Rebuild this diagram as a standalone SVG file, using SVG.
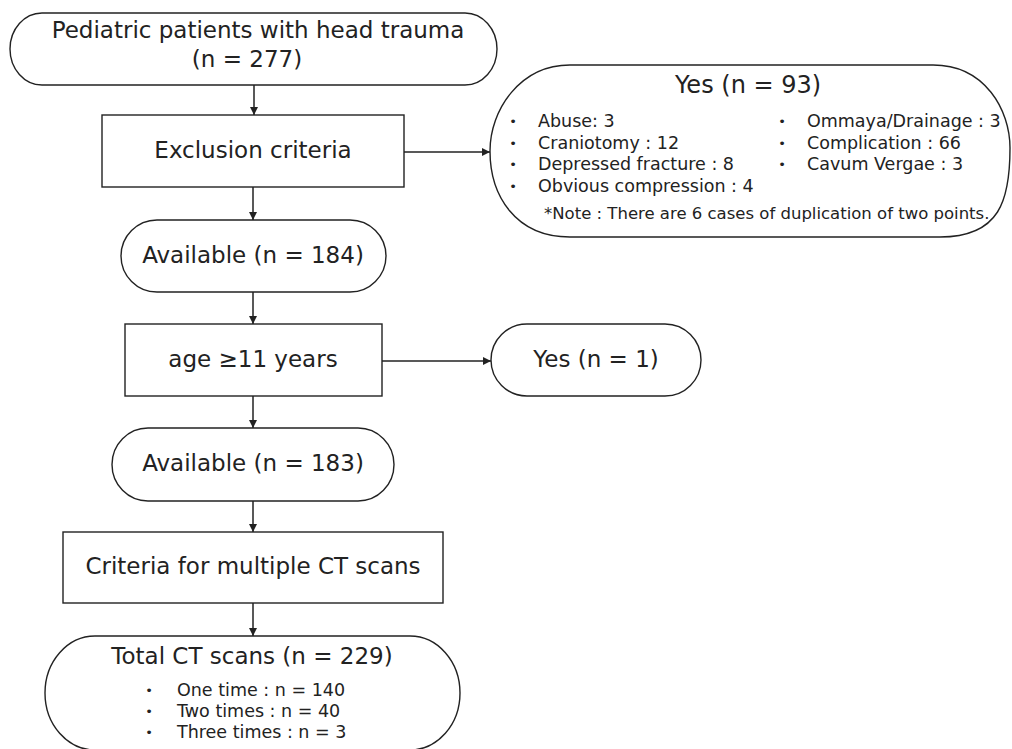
<svg xmlns="http://www.w3.org/2000/svg" width="1012" height="749" viewBox="0 0 1012 749">
<style>
.box{fill:#fff;stroke:#222;stroke-width:1.4}
.t{font-family:"DejaVu Sans",Verdana,sans-serif;fill:#222;font-size:23px}
.m{text-anchor:middle}
.b{font-family:"DejaVu Sans",Verdana,sans-serif;fill:#222;font-size:17.5px}
.d{font-family:"DejaVu Sans",Verdana,sans-serif;fill:#222;font-size:13px;text-anchor:middle}
.n{font-family:"DejaVu Sans",Verdana,sans-serif;fill:#222;font-size:16.5px}
.c{stroke:#222;stroke-width:1.5;fill:none;marker-end:url(#ah)}
</style>
<defs>
<marker id="ah" viewBox="0 0 10 10" refX="10" refY="5" markerWidth="9" markerHeight="8" markerUnits="userSpaceOnUse" orient="auto">
<path d="M0,0 L10,5 L0,10 z" fill="#222"/>
</marker>
</defs>
<rect width="1012" height="749" fill="#fff"/>
<g id="connectors">
<line class="c" x1="254" y1="85" x2="254" y2="115"/>
<line class="c" x1="253" y1="187" x2="253" y2="220"/>
<line class="c" x1="253" y1="292" x2="253" y2="324"/>
<line class="c" x1="253" y1="396" x2="253" y2="428"/>
<line class="c" x1="253" y1="501" x2="253" y2="532"/>
<line class="c" x1="253" y1="603" x2="253" y2="636"/>
<line class="c" x1="404" y1="152" x2="490" y2="152"/>
<line class="c" x1="382" y1="361" x2="491" y2="361"/>
</g>
<g id="start">
<rect class="box" x="10" y="13" width="487" height="72" rx="32" ry="36"/>
<text class="t m" x="258" y="38">Pediatric patients with head trauma</text>
<text class="t m" x="247" y="67">(n = 277)</text>
</g>
<g id="exclusion">
<rect class="box" x="102" y="115" width="302" height="72"/>
<text class="t m" x="253" y="158">Exclusion criteria</text>
</g>
<g id="yes93">
<path class="box" d="M570,65 L933,65 C985,65 1010,110 1010,148 C1010,200 1000,237 940,237 L570,237 C515,237 490,195 490,151 C490,110 520,65 570,65 Z"/>
<text class="t m" x="748" y="93" style="font-size:24px">Yes (n = 93)</text>
<text class="d" x="513" y="126">•</text>
<text class="b" x="538" y="127">Abuse: 3</text>
<text class="d" x="513" y="147.5">•</text>
<text class="b" x="538" y="148.5">Craniotomy : 12</text>
<text class="d" x="513" y="169">•</text>
<text class="b" x="538" y="170">Depressed fracture : 8</text>
<text class="d" x="513" y="190.5">•</text>
<text class="b" x="538" y="191.5">Obvious compression : 4</text>
<text class="d" x="782" y="126">•</text>
<text class="b" x="807" y="127">Ommaya/Drainage : 3</text>
<text class="d" x="782" y="147.5">•</text>
<text class="b" x="807" y="148.5">Complication : 66</text>
<text class="d" x="782" y="169">•</text>
<text class="b" x="807" y="170">Cavum Vergae : 3</text>
<text class="n" x="544" y="219">*Note : There are 6 cases of duplication of two points.</text>
</g>
<g id="available184">
<rect class="box" x="121" y="220" width="265" height="72" rx="36" ry="36"/>
<text class="t m" x="253" y="263">Available (n = 184)</text>
</g>
<g id="age">
<rect class="box" x="125" y="324" width="257" height="72"/>
<text class="t m" x="253" y="367">age ≥11 years</text>
</g>
<g id="yes1">
<rect class="box" x="491" y="324" width="210" height="72" rx="36" ry="36"/>
<text class="t m" x="596" y="367">Yes (n = 1)</text>
</g>
<g id="available183">
<rect class="box" x="112" y="428" width="282" height="73" rx="36" ry="36.5"/>
<text class="t m" x="253" y="471">Available (n = 183)</text>
</g>
<g id="multiple">
<rect class="box" x="63" y="532" width="380" height="71"/>
<text class="t m" x="253" y="574">Criteria for multiple CT scans</text>
</g>
<g id="total">
<rect class="box" x="45" y="636" width="415" height="114" rx="50" ry="57"/>
<text class="t m" x="252" y="664">Total CT scans (n = 229)</text>
<text class="d" x="149" y="695">•</text>
<text class="b" x="177" y="696">One time : n = 140</text>
<text class="d" x="149" y="716">•</text>
<text class="b" x="177" y="717">Two times : n = 40</text>
<text class="d" x="149" y="737">•</text>
<text class="b" x="177" y="738">Three times : n = 3</text>
</g>
</svg>
